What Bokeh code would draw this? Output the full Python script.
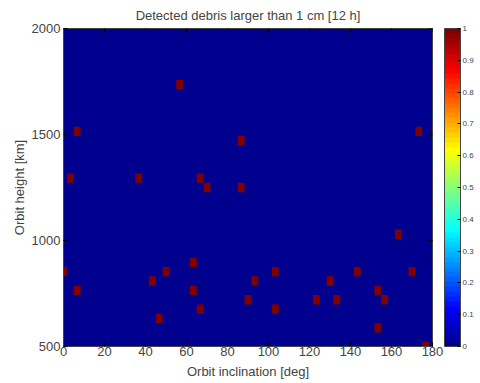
from bokeh.plotting import figure
from bokeh.models import ColumnDataSource, LinearColorMapper, ColorBar, FixedTicker, Range1d
from bokeh.embed import file_html
from bokeh.resources import INLINE
import math

# ---- data ----
inclination = [56.67, 6.67, 3.33, 36.67, 86.67, 66.67, 70.00, 86.67, 173.33,
               0.00, 50.00, 43.33, 6.67, 46.67, 63.33, 103.33, 93.33, 63.33,
               90.00, 66.67, 103.33, 163.33, 143.33, 170.00, 130.00, 153.33,
               123.33, 133.33, 156.67, 153.33, 176.67]
height_km = [1735.3, 1514.7, 1294.1, 1294.1, 1470.6, 1294.1, 1250.0, 1250.0, 1514.7,
             852.9, 852.9, 808.8, 764.7, 632.4, 897.1, 852.9, 808.8, 764.7,
             720.6, 676.5, 676.5, 1029.4, 852.9, 852.9, 808.8, 764.7,
             720.6, 720.6, 720.6, 588.2, 500.0]
detected = [1] * len(inclination)

x_ticks = [0, 20, 40, 60, 80, 100, 120, 140, 160, 180]
y_ticks = [500, 1000, 1500, 2000]
cbar_ticks = [0, 0.1, 0.2, 0.3, 0.4, 0.5, 0.6, 0.7, 0.8, 0.9, 1]
cbar_labels = ["0", "0.1", "0.2", "0.3", "0.4", "0.5", "0.6", "0.7", "0.8", "0.9", "1"]

x_min, x_max = 0, 180
y_min, y_max = 500, 2000
cell_w = 180 / 54
cell_h = 1500 / 34

FONT = "Liberation Sans"


def jet(m=64):
    n = math.ceil(m / 4)
    u = [(i + 1) / n for i in range(n)] + [1.0] * (n - 1) + [(n - i) / n for i in range(n)]
    g0 = math.ceil(n / 2) - (1 if m % 4 == 1 else 0)
    rgb = [[0.0, 0.0, 0.0] for _ in range(m)]
    for k, val in enumerate(u):
        g = g0 + k + 1
        r = g + n
        b = g - n
        if 1 <= r <= m:
            rgb[r - 1][0] = val
        if 1 <= g <= m:
            rgb[g - 1][1] = val
        if 1 <= b <= m:
            rgb[b - 1][2] = val
    return ["#%02x%02x%02x" % tuple(int(round(c * 255)) for c in col) for col in rgb]


palette = jet(64)
mapper = LinearColorMapper(palette=palette, low=0, high=1)

src = ColumnDataSource(dict(x=inclination, y=height_km, v=detected))

p = figure(frame_width=369, frame_height=318,
           x_range=Range1d(x_min, x_max), y_range=Range1d(y_min, y_max),
           output_backend="svg", toolbar_location=None,
           title="Detected debris larger than 1 cm [12 h]",
           min_border_left=63, min_border_right=48, min_border_top=27, min_border_bottom=38)

p.background_fill_color = palette[0]
p.border_fill_color = "white"
p.grid.visible = False
p.outline_line_color = "#444444"

p.rect(x="x", y="y", width=cell_w, height=cell_h, source=src,
       fill_color={"field": "v", "transform": mapper}, line_color=None)

# inward tick marks on the top and right edges of the box
p.scatter(x=x_ticks, y=[y_max] * len(x_ticks), marker="dash", size=8,
          angle=math.pi / 2, line_color="black", line_width=1)
p.scatter(x=[x_max] * len(y_ticks), y=y_ticks, marker="dash", size=8,
          line_color="black", line_width=1)

p.title.align = "center"
p.title.text_font = FONT
p.title.text_font_size = "13px"
p.title.text_font_style = "normal"
p.title.standoff = 11

for ax, ticks in ((p.xaxis[0], x_ticks), (p.yaxis[0], y_ticks)):
    ax.ticker = FixedTicker(ticks=ticks)
    ax.major_tick_in = 4
    ax.major_tick_out = 0
    ax.minor_tick_line_color = None
    ax.major_label_text_font = FONT
    ax.major_label_text_font_size = "13px"
    ax.axis_label_text_font = FONT
    ax.axis_label_text_font_size = "13px"
    ax.axis_label_text_font_style = "normal"
    ax.axis_line_color = "#444444"
    ax.major_tick_line_color = "black"

p.xaxis.axis_label = "Orbit inclination [deg]"
p.yaxis.axis_label = "Orbit height [km]"
p.xaxis.major_label_standoff = 0
p.xaxis.axis_label_standoff = 5
p.yaxis.major_label_standoff = 3
p.yaxis.axis_label_standoff = 2

cb = ColorBar(color_mapper=mapper, ticker=FixedTicker(ticks=cbar_ticks),
              major_label_overrides={t: l for t, l in zip(cbar_ticks, cbar_labels)},
              width=16, height=318, padding=0, location=(12, 0),
              major_label_text_font=FONT, major_label_text_font_size="8px",
              label_standoff=2, major_tick_in=3, major_tick_line_color="black",
              bar_line_color="#444444", minor_tick_line_color=None)
p.add_layout(cb, "right")

open("out.html", "w").write(file_html(p, INLINE))
